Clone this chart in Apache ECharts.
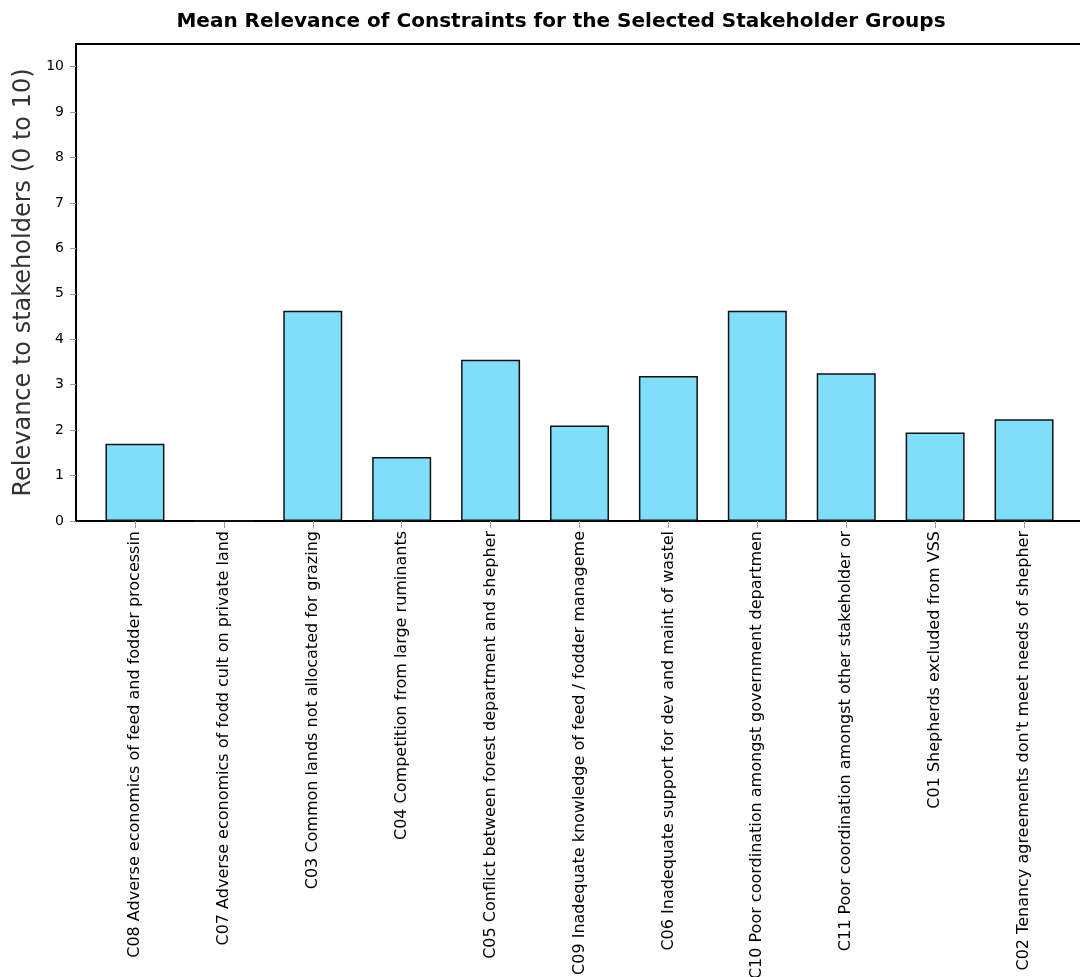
<!DOCTYPE html>
<html>
<head>
<meta charset="utf-8">
<script src="https://cdn.jsdelivr.net/npm/echarts@6/dist/echarts.min.js"></script>
<style>html,body{margin:0;padding:0;background:#fff;}#c{width:1080px;height:977px;}</style>
</head>
<body>
<div id="c"></div>
<script>
const titleText = 'Mean Relevance of Constraints for the Selected Stakeholder Groups';
const yAxisName = 'Relevance to stakeholders (0 to 10)';
const categories = [
  'C08 Adverse economics of feed and fodder processin',
  'C07 Adverse economics of fodd cult on private land',
  'C03 Common lands not allocated for grazing',
  'C04 Competition from large ruminants',
  'C05 Conflict between forest department and shepher',
  'C09 Inadequate knowledge of feed / fodder manageme',
  'C06 Inadequate support for dev and maint of wastel',
  'C10 Poor coordination amongst government departmen',
  'C11 Poor coordination amongst other stakeholder or',
  'C01 Shepherds excluded from VSS',
  'C02 Tenancy agreements don\'t meet needs of shepher'
];
const values = [1.70, 0, 4.63, 1.41, 3.55, 2.10, 3.19, 4.63, 3.25, 1.95, 2.24];

const chart = echarts.init(document.getElementById('c'), null, {renderer: 'canvas'});
chart.setOption({
  animation: false,
  backgroundColor: '#fff',
  title: {
    text: titleText,
    left: 556, top: 7, textAlign: 'center',
    textStyle: {fontFamily: 'DejaVu Sans', fontWeight: 'bold', fontSize: 20, color: '#000'}
  },
  grid: [
    {left: 76, top: 44, right: -20, height: 477, show: true, borderColor: '#000', borderWidth: 2, backgroundColor: 'transparent', containLabel: false, outerBoundsMode: 'none'},
    {left: 90.5, top: 44, width: 978, height: 477, containLabel: false, outerBoundsMode: 'none'}
  ],
  xAxis: [
    {gridIndex: 0, type: 'value', show: false, min: 0, max: 1},
    {
      gridIndex: 1, type: 'category', data: categories, boundaryGap: true,
      axisLine: {show: false},
      axisTick: {show: true, alignWithLabel: true, length: 7, lineStyle: {color: '#999', width: 1}},
      axisLabel: {rotate: 90, interval: 0, margin: 10, fontFamily: 'DejaVu Sans', fontSize: 16, color: '#000'}
    }
  ],
  yAxis: [
    {gridIndex: 0, type: 'value', show: false, min: 0, max: 1},
    {
      gridIndex: 1, type: 'value', min: 0, max: 10.5, interval: 1, offset: 14.5,
      name: yAxisName, nameLocation: 'middle', nameGap: 36,
      nameTextStyle: {fontFamily: 'DejaVu Sans', fontSize: 24, color: '#333'},
      axisLine: {show: false},
      axisTick: {show: true, length: 6, lineStyle: {color: '#999', width: 1}},
      axisLabel: {showMaxLabel: false, margin: 12, fontFamily: 'DejaVu Sans', fontSize: 14, color: '#000'},
      splitLine: {show: false}
    }
  ],
  series: [{
    type: 'bar', xAxisIndex: 1, yAxisIndex: 1, data: values, barWidth: 59,
    itemStyle: {color: '#7FDFFB', borderColor: '#111', borderWidth: 1.5}
  }]
});
</script>
</body>
</html>
